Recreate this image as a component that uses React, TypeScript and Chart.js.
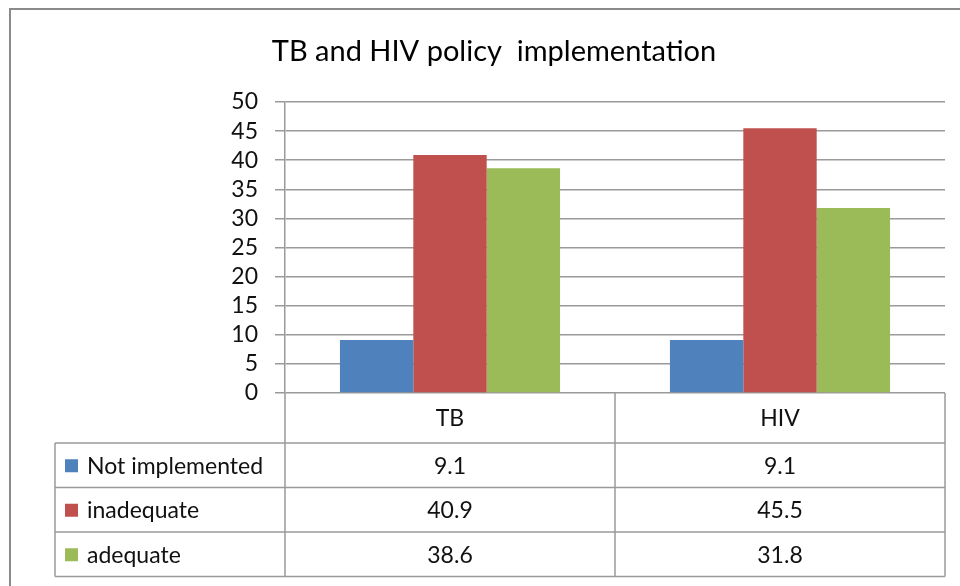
import React, { useEffect, useRef } from "react";
import { Chart, registerables } from "chart.js";

Chart.register(...registerables);

const TITLE = "TB and HIV policy  implementation";
const categories = ["TB", "HIV"];
const seriesNames = ["Not implemented", "inadequate", "adequate"];
const notImplemented = [9.1, 9.1];
const inadequate = [40.9, 45.5];
const adequate = [38.6, 31.8];
const seriesColors = ["#4F81BD", "#C0504D", "#9BBB59"];
const yMin = 0;
const yMax = 50;
const yStep = 5;

const FONT = "Lato, 'Open Sans', sans-serif";
const LINE = "#9a9a9a";
const TXT = 23;

const tablePlugin = {
  id: "excelTable",
  afterDraw(chart: any) {
    const ctx = chart.ctx as CanvasRenderingContext2D;
    const xs = chart.scales.x;
    const area = chart.chartArea;
    const n = categories.length;
    const colW = (area.right - area.left) / n;
    const edges: number[] = [];
    for (let i = 0; i <= n; i++) edges.push(area.left + colW * i);
    const headerTop = area.bottom;
    const headerBottom = 443;
    const rowH = 44.5;
    const tableLeft = 55;
    const rowsY = [headerBottom, headerBottom + rowH, headerBottom + 2 * rowH, headerBottom + 3 * rowH];

    ctx.save();
    // outer frame
    ctx.fillStyle = "#8a8a8a";
    ctx.fillRect(9, 8, 2, 600);
    ctx.fillRect(9, 8, 960, 2);

    // title
    ctx.fillStyle = "#000";
    ctx.font = `29px ${FONT}`;
    ctx.textAlign = "center";
    ctx.textBaseline = "alphabetic";
    ctx.fillText(TITLE, 494, 61);

    // table lines
    ctx.strokeStyle = LINE;
    ctx.lineWidth = 1.5;
    ctx.beginPath();
    rowsY.forEach((y) => {
      ctx.moveTo(tableLeft, y);
      ctx.lineTo(area.right, y);
    });
    ctx.moveTo(tableLeft, rowsY[0]);
    ctx.lineTo(tableLeft, rowsY[3]);
    edges.forEach((x) => {
      ctx.moveTo(x, headerTop);
      ctx.lineTo(x, rowsY[3]);
    });
    ctx.stroke();

    // category labels
    ctx.fillStyle = "#111";
    ctx.font = `${TXT}px ${FONT}`;
    ctx.textAlign = "center";
    ctx.textBaseline = "middle";
    categories.forEach((c, i) => {
      ctx.fillText(c, xs.getPixelForValue(i), (headerTop + headerBottom) / 2 + 1);
    });

    // rows
    const allData = [notImplemented, inadequate, adequate];
    allData.forEach((vals, r) => {
      const cy = (rowsY[r] + rowsY[r + 1]) / 2 + 1;
      ctx.fillStyle = seriesColors[r];
      ctx.fillRect(65, cy - 7, 13, 13);
      ctx.fillStyle = "#111";
      ctx.textAlign = "left";
      ctx.fillText(seriesNames[r], 87, cy);
      ctx.textAlign = "center";
      vals.forEach((v, i) => {
        ctx.fillText(v.toFixed(1), xs.getPixelForValue(i), cy);
      });
    });
    ctx.restore();
  },
};

export default function App() {
  const ref = useRef<HTMLCanvasElement>(null);
  useEffect(() => {
    document.body.style.margin = "0";
    const chart = new Chart(ref.current as HTMLCanvasElement, {
      type: "bar",
      data: {
        labels: categories,
        datasets: [
          { label: seriesNames[0], data: notImplemented, backgroundColor: seriesColors[0] },
          { label: seriesNames[1], data: inadequate, backgroundColor: seriesColors[1] },
          { label: seriesNames[2], data: adequate, backgroundColor: seriesColors[2] },
        ],
      },
      options: {
        responsive: false,
        animation: false,
        devicePixelRatio: 1,
        layout: { padding: { top: 102, right: 15, bottom: 193, left: 0 } },
        datasets: { bar: { categoryPercentage: 0.667, barPercentage: 1.0 } },
        plugins: {
          legend: { display: false },
          title: { display: false },
          tooltip: { enabled: false },
        },
        scales: {
          x: { display: false },
          y: {
            min: yMin,
            max: yMax,
            afterFit: (s: any) => {
              s.width = 285;
            },
            ticks: {
              stepSize: yStep,
              autoSkip: false,
              padding: 17,
              color: "#111",
              font: { family: FONT, size: TXT },
            },
            grid: { color: LINE, lineWidth: 1.5, tickLength: 10, drawTicks: true },
            border: { color: LINE, width: 1.5 },
          },
        },
      },
      plugins: [tablePlugin],
    });
    return () => chart.destroy();
  }, []);
  return (
    <div style={{ position: "fixed", left: 0, top: 0, width: 960, height: 586, background: "#fff" }}>
      <canvas ref={ref} width={960} height={586} />
    </div>
  );
}
